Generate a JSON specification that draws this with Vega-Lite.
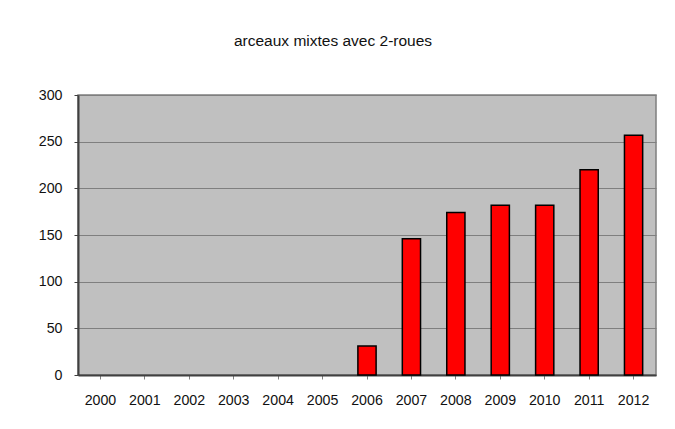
{
  "$schema": "https://vega.github.io/schema/vega-lite/v6.json",
  "autosize": "none",
  "width": 578,
  "height": 280,
  "padding": {"left": 78, "top": 95, "right": 19, "bottom": 54},
  "background": "white",
  "title": {
    "text": "arceaux mixtes avec 2-roues",
    "font": "Liberation Sans",
    "fontSize": 15.5,
    "fontWeight": "normal",
    "color": "#111111",
    "offset": 39,
    "dx": -34
  },
  "data": {
    "values": [
      {"year": "2000", "value": 0},
      {"year": "2001", "value": 0},
      {"year": "2002", "value": 0},
      {"year": "2003", "value": 0},
      {"year": "2004", "value": 0},
      {"year": "2005", "value": 0},
      {"year": "2006", "value": 31},
      {"year": "2007", "value": 146},
      {"year": "2008", "value": 174},
      {"year": "2009", "value": 182},
      {"year": "2010", "value": 182},
      {"year": "2011", "value": 220},
      {"year": "2012", "value": 257}
    ]
  },
  "mark": {"type": "bar", "color": "#ff0000", "stroke": "#000000", "strokeWidth": 1.5},
  "encoding": {
    "x": {
      "field": "year",
      "type": "ordinal",
      "scale": {"paddingInner": 0.59, "paddingOuter": 0.3},
      "axis": {
        "title": null,
        "labelAngle": 0,
        "labelFont": "Liberation Sans",
        "labelFontSize": 14.2,
        "labelColor": "#111111",
        "labelPadding": 14,
        "domainColor": "#404040",
        "domainWidth": 2,
        "tickColor": "#808080",
        "tickSize": 4,
        "grid": false
      }
    },
    "y": {
      "field": "value",
      "type": "quantitative",
      "scale": {"domain": [0, 300], "nice": false},
      "axis": {
        "title": null,
        "values": [0, 50, 100, 150, 200, 250, 300],
        "labelFont": "Liberation Sans",
        "labelFontSize": 14.2,
        "labelColor": "#111111",
        "labelPadding": 12,
        "domainColor": "#404040",
        "domainWidth": 2,
        "tickColor": "#404040",
        "tickSize": 4,
        "grid": true,
        "gridColor": "#7f7f7f",
        "gridWidth": 1
      }
    },
    "strokeOpacity": {
      "condition": {"test": "datum.value > 0", "value": 1},
      "value": 0
    }
  },
  "config": {
    "view": {"fill": "#c0c0c0", "stroke": "#7f7f7f", "strokeWidth": 1.5}
  }
}
